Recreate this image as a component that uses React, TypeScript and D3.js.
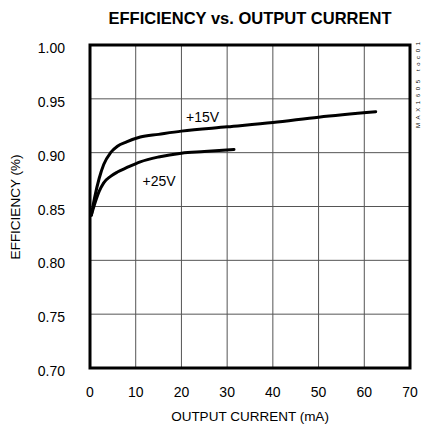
import * as d3 from 'd3';

// +15V curve (mA, efficiency)
const current15 = [0.3, 1, 2, 3, 4.5, 6, 8, 11, 15, 20, 30, 40, 50, 62.5];
const eff15 = [0.842, 0.858, 0.876, 0.889, 0.900, 0.906, 0.910, 0.9145, 0.917, 0.920, 0.924, 0.928, 0.933, 0.938];

// +25V curve
const current25 = [0.3, 1, 2, 3, 4.5, 6, 8, 11, 15, 20, 25, 31.5];
const eff25 = [0.842, 0.852, 0.864, 0.872, 0.878, 0.882, 0.886, 0.8915, 0.896, 0.8995, 0.901, 0.903];

const xTicks = [0, 10, 20, 30, 40, 50, 60, 70];
const yTicks = [0.7, 0.75, 0.8, 0.85, 0.9, 0.95, 1.0];

const curveLabels = [
  { text: '+15V', x: 21, y: 0.9285 },
  { text: '+25V', x: 11.5, y: 0.869 },
];

const W = 422;
const H = 427;
const margin = { top: 45, right: 12, bottom: 59, left: 90 };
const FONT = "'Liberation Sans', Arial, Helvetica, sans-serif";

export default function App() {
  const x = d3.scaleLinear().domain([0, 70]).range([margin.left, W - margin.right]);
  const y = d3.scaleLinear().domain([0.7, 1.0]).range([H - margin.bottom, margin.top]);

  const line = d3.line<[number, number]>()
    .x(d => x(d[0]))
    .y(d => y(d[1]))
    .curve(d3.curveMonotoneX);

  const pts15 = current15.map((c, i) => [c, eff15[i]] as [number, number]);
  const pts25 = current25.map((c, i) => [c, eff25[i]] as [number, number]);

  const [x0, x1] = x.range();
  const [y0, y1] = y.range();

  return (
    <svg width={W} height={H} style={{ position: 'absolute', left: 0, top: 0, background: '#fff' }} fontFamily={FONT}>
      <text x={250} y={24} textAnchor="middle" fontSize={16.5} fontWeight="bold">
        EFFICIENCY vs. OUTPUT CURRENT
      </text>

      {/* grid */}
      {xTicks.slice(1, -1).map(t => (
        <line key={'gx' + t} x1={x(t)} x2={x(t)} y1={y1} y2={y0} stroke="#555" strokeWidth={1} />
      ))}
      {yTicks.slice(1, -1).map(t => (
        <line key={'gy' + t} x1={x0} x2={x1} y1={y(t)} y2={y(t)} stroke="#555" strokeWidth={1} />
      ))}

      {/* curves */}
      <path d={line(pts15) || ''} fill="none" stroke="#000" strokeWidth={3} strokeLinecap="round" />
      <path d={line(pts25) || ''} fill="none" stroke="#000" strokeWidth={3} strokeLinecap="round" />

      {curveLabels.map(l => (
        <text key={l.text} x={x(l.x)} y={y(l.y)} fontSize={14}>{l.text}</text>
      ))}

      {/* frame */}
      <rect x={x0} y={y1} width={x1 - x0} height={y0 - y1} fill="none" stroke="#000" strokeWidth={3} />

      {/* tick labels */}
      {yTicks.map(t => (
        <text key={'ty' + t} x={65} y={y(t) + 8} textAnchor="end" fontSize={14}>{t.toFixed(2)}</text>
      ))}
      {xTicks.map(t => (
        <text key={'tx' + t} x={x(t)} y={397} textAnchor="middle" fontSize={14}>{t}</text>
      ))}

      <text x={250} y={421} textAnchor="middle" fontSize={13.5}>OUTPUT CURRENT (mA)</text>
      <text transform="translate(20,207) rotate(-90)" textAnchor="middle" fontSize={13.5}>EFFICIENCY (%)</text>

      <text transform="translate(420,128) rotate(-90)" fontSize={6} textLength={86} lengthAdjust="spacing">MAX1605 toc01</text>
    </svg>
  );
}
